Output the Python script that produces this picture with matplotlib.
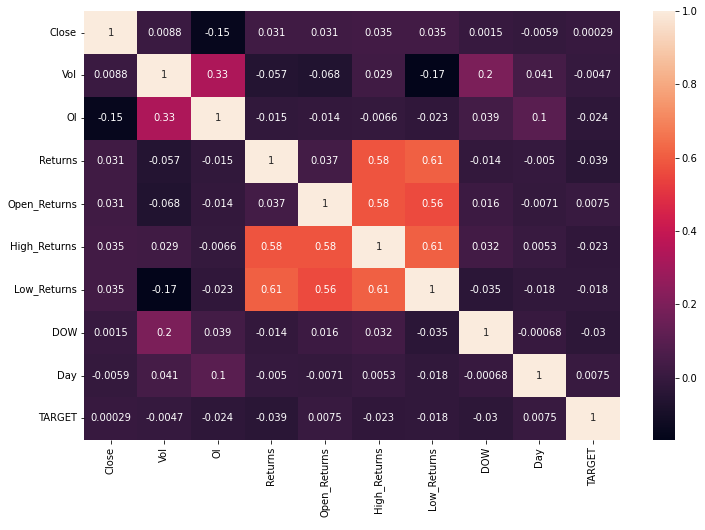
import numpy as np
import pandas as pd
import seaborn as sns
from matplotlib import pyplot as plt

columns = ['Close', 'Vol', 'OI', 'Returns', 'Open_Returns', 'High_Returns',
           'Low_Returns', 'DOW', 'Day', 'TARGET']

close = [1, 0.0088, -0.15, 0.031, 0.031, 0.035, 0.035, 0.0015, -0.0059, 0.00029]
vol = [0.0088, 1, 0.33, -0.057, -0.068, 0.029, -0.17, 0.2, 0.041, -0.0047]
oi = [-0.15, 0.33, 1, -0.015, -0.014, -0.0066, -0.023, 0.039, 0.1, -0.024]
returns = [0.031, -0.057, -0.015, 1, 0.037, 0.58, 0.61, -0.014, -0.005, -0.039]
open_returns = [0.031, -0.068, -0.014, 0.037, 1, 0.58, 0.56, 0.016, -0.0071, 0.0075]
high_returns = [0.035, 0.029, -0.0066, 0.58, 0.58, 1, 0.61, 0.032, 0.0053, -0.023]
low_returns = [0.035, -0.17, -0.023, 0.61, 0.56, 0.61, 1, -0.035, -0.018, -0.018]
dow = [0.0015, 0.2, 0.039, -0.014, 0.016, 0.032, -0.035, 1, -0.00068, -0.03]
day = [-0.0059, 0.041, 0.1, -0.005, -0.0071, 0.0053, -0.018, -0.00068, 1, 0.0075]
target = [0.00029, -0.0047, -0.024, -0.039, 0.0075, -0.023, -0.018, -0.03, 0.0075, 1]

corr = pd.DataFrame([close, vol, oi, returns, open_returns, high_returns,
                     low_returns, dow, day, target],
                    index=columns, columns=columns)

fig = plt.figure(figsize=(705 / 72, 530 / 72), dpi=72)
ax = fig.add_axes([0.119, 0.170, 0.760, 0.809])
cax = fig.add_axes([0.926, 0.170, 0.031, 0.809])

sns.heatmap(corr, annot=True, ax=ax, cbar_ax=cax)

plt.savefig('out.png', dpi=72)
